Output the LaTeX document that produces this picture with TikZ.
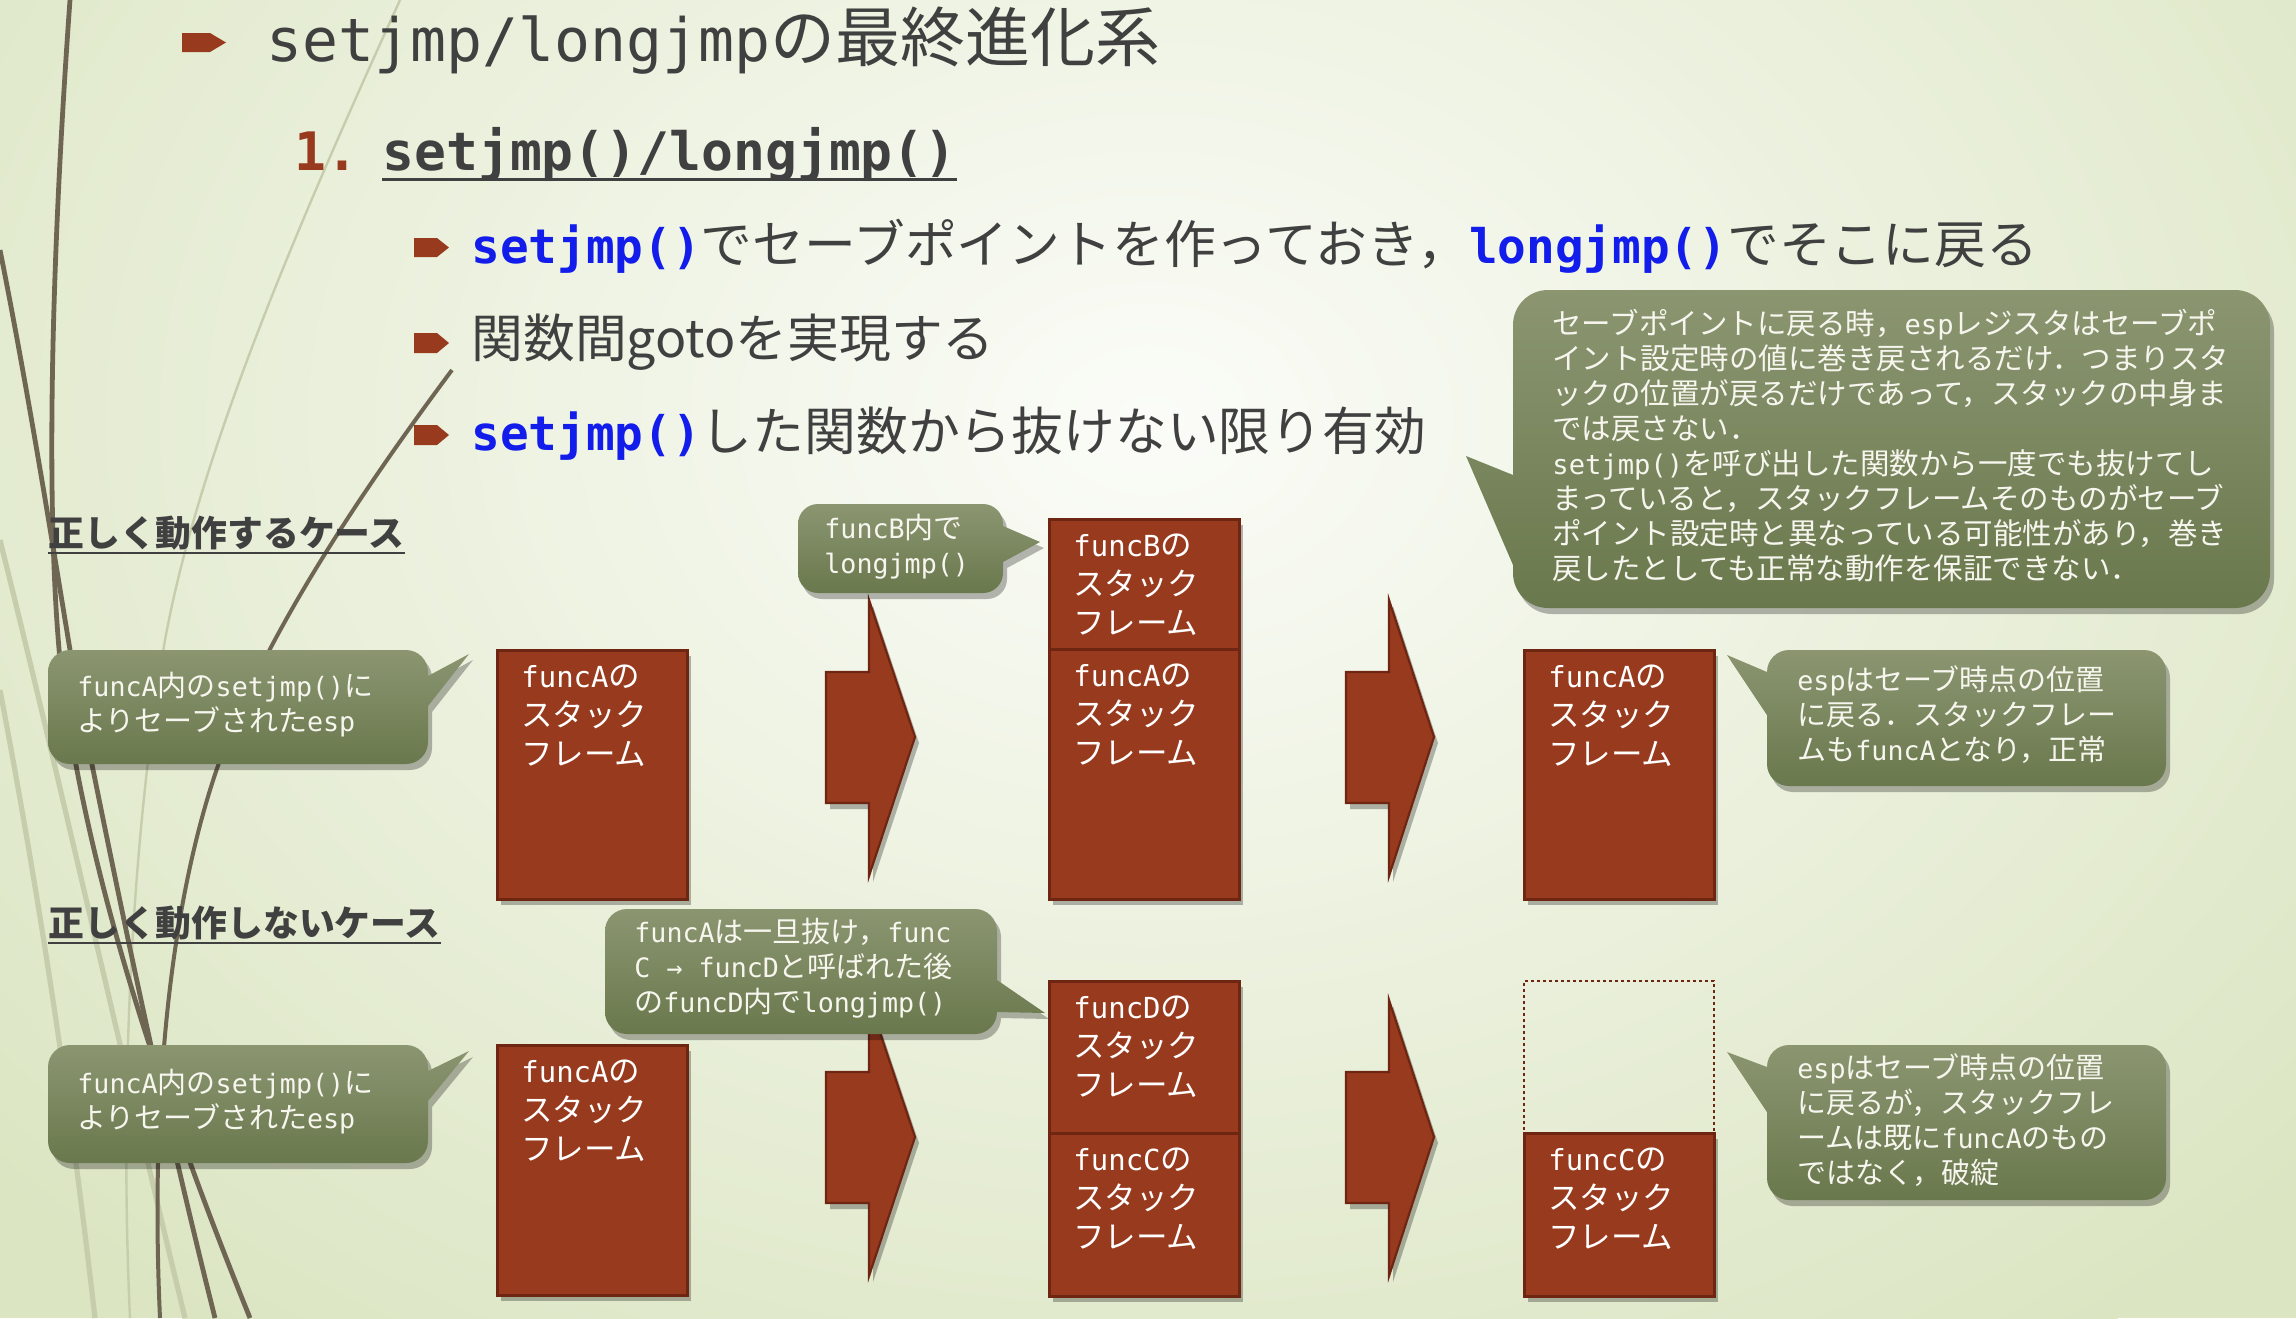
\documentclass[tikz,border=0pt]{standalone}
\usepackage{fontspec}
\setmainfont{Noto Sans CJK JP}
\newfontfamily\monofam[Scale=0.92]{DejaVu Sans Mono}
\usetikzlibrary{shadows}
\definecolor{rust}{RGB}{152,58,30}
\definecolor{rustdark}{RGB}{110,38,18}
\definecolor{olivetop}{RGB}{139,150,113}
\definecolor{olivebot}{RGB}{106,120,77}
\definecolor{txtgray}{RGB}{64,64,64}
\definecolor{codeblue}{RGB}{18,28,235}
\definecolor{bgedge}{RGB}{219,229,194}
\definecolor{bgmid}{RGB}{251,252,248}
\definecolor{darkline}{RGB}{110,102,82}
\definecolor{paleline}{RGB}{198,205,172}
\definecolor{cotext}{RGB}{246,246,238}
\newcommand{\cmono}[1]{{\monofam #1}}
\newcommand{\code}[1]{{\color{codeblue}\monofam\bfseries #1}}
% rounded callout, tail on right edge: x1 y1 x2 y2 r ya yb tipx tipy
\newcommand{\calR}[9]{(#1+#5,#2) -- (#3-#5,#2) arc[start angle=270,end angle=360,radius=#5] -- (#3,#6) -- (#8,#9) -- (#3,#7) -- (#3,#4-#5) arc[start angle=0,end angle=90,radius=#5] -- (#1+#5,#4) arc[start angle=90,end angle=180,radius=#5] -- (#1,#2+#5) arc[start angle=180,end angle=270,radius=#5] -- cycle}
% rounded callout, tail on left edge
\newcommand{\calL}[9]{(#1+#5,#2) -- (#3-#5,#2) arc[start angle=270,end angle=360,radius=#5] -- (#3,#4-#5) arc[start angle=0,end angle=90,radius=#5] -- (#1+#5,#4) arc[start angle=90,end angle=180,radius=#5] -- (#1,#7) -- (#8,#9) -- (#1,#6) -- (#1,#2+#5) arc[start angle=180,end angle=270,radius=#5] -- cycle}
\begin{document}
\begin{tikzpicture}[x=0.5pt,y=-0.5pt,
  shad/.style={drop shadow={shadow xshift=2pt,shadow yshift=-3pt,opacity=0.28,fill=black}},
  callout/.style={top color=olivetop,bottom color=olivebot,draw=none,shad},
  frame/.style={draw=rustdark,line width=1.3pt,fill=rust,inner sep=0,anchor=north west,minimum width=95pt,shad},
  blockarrow/.style={draw=rustdark,line width=1.1pt,fill=rust,shad},
  bullet/.style={fill=rust,draw=none},
  boxlbl/.style={anchor=north west,inner sep=0,align=left,text=white,font=\fontsize{15.75pt}{19.5pt}\selectfont},
  colbl/.style={anchor=north west,inner sep=0,align=left,text=cotext,font=\fontsize{14.5pt}{17.5pt}\selectfont},
  bulltxt/.style={anchor=base west,inner sep=0,text=txtgray,font=\fontsize{25.9pt}{30pt}\selectfont},
  heading/.style={anchor=base west,inner sep=0,text=txtgray,font=\fontsize{17.9pt}{22pt}\selectfont\bfseries},
  uline/.style={txtgray,line width=1.2pt}]
\useasboundingbox (0,0) rectangle (2296,1318);
% background
\begin{scope}
\clip (0,0) rectangle (2296,1318);
\fill[bgedge] (0,0) rectangle (2296,1318);
\shade[inner color=bgmid,outer color=bgedge] (1150,420) ellipse [x radius=1550,y radius=1150];
% decorative strands
\draw[paleline,line width=1.2pt] (400,0) .. controls (300,220) and (200,450) .. (165,640) .. controls (130,850) and (120,1100) .. (130,1318);
\draw[paleline,line width=2.6pt] (0,540) .. controls (60,780) and (120,1050) .. (185,1318);
\draw[paleline,line width=2.6pt] (0,690) .. controls (40,900) and (70,1100) .. (95,1318);
\draw[darkline,line width=2.4pt] (70,0) .. controls (52,250) and (45,500) .. (60,660) .. controls (85,880) and (170,1120) .. (250,1318);
\draw[darkline,line width=2.4pt] (0,250) .. controls (30,400) and (55,560) .. (75,680) .. controls (115,880) and (160,1100) .. (215,1318);
\draw[darkline,line width=2pt] (452,370) .. controls (340,520) and (260,650) .. (220,760) .. controls (170,900) and (150,1100) .. (160,1318);
\end{scope}
% title
\fill[bullet] (182,33) -- (210,33) -- (226,42.5) -- (210,52) -- (182,52) -- cycle;
\node[anchor=base west,inner sep=0,text=txtgray,font=\fontsize{32.5pt}{38pt}\selectfont] (title) at (266,61) {\cmono{setjmp/longjmp}の最終進化系};
\node[anchor=base west,inner sep=0,text=rust,font=\fontsize{28.8pt}{34pt}\selectfont\monofam\bfseries] (num) at (294,170) {1.};
\node[anchor=base west,inner sep=0,text=txtgray,font=\fontsize{28.8pt}{34pt}\selectfont\monofam\bfseries] (sub) at (382,170) {setjmp()/longjmp()};
\draw[uline,line width=1.5pt] ([yshift=-4.5pt]sub.base west) -- ([yshift=-4.5pt]sub.base east);
% bullets
\fill[bullet] (414,238) -- (437,238) -- (449,247.5) -- (437,257) -- (414,257) -- cycle;
\fill[bullet] (414,333) -- (437,333) -- (449,343) -- (437,353) -- (414,353) -- cycle;
\fill[bullet] (414,425) -- (437,425) -- (449,435) -- (437,445) -- (414,445) -- cycle;
\node[bulltxt] (b1) at (471,263) {\code{setjmp()}でセーブポイントを作っておき，\code{longjmp()}でそこに戻る};
\node[bulltxt] (b2) at (471,357) {関数間gotoを実現する};
\node[bulltxt] (b3) at (471,450) {\code{setjmp()}した関数から抜けない限り有効};
% headings
\node[heading] (h1) at (48,546) {正しく動作するケース};
\draw[uline] ([yshift=-3.5pt]h1.base west) -- ([yshift=-3.5pt]h1.base east);
\node[heading] (h2) at (48,936) {正しく動作しないケース};
\draw[uline] ([yshift=-3.5pt]h2.base west) -- ([yshift=-3.5pt]h2.base east);
% big callout
\path[callout] \calL{1513}{290}{2270}{608}{35}{475}{565}{1466}{456};
\node[colbl,font=\fontsize{14.75pt}{17.5pt}\selectfont] (cbig) at (1552,309) {セーブポイントに戻る時，\cmono{esp}レジスタはセーブポ\\イント設定時の値に巻き戻されるだけ．つまりスタ\\ックの位置が戻るだけであって，スタックの中身ま\\では戻さない．\\\cmono{setjmp()}を呼び出した関数から一度でも抜けてし\\まっていると，スタックフレームそのものがセーブ\\ポイント設定時と異なっている可能性があり，巻き\\戻したとしても正常な動作を保証できない．};
% ---- upper case ----
\path[callout] \calR{48}{650}{428}{764}{22}{676}{706}{469}{654};
\node[colbl] (c1) at (77,672) {\cmono{funcA}内の\cmono{setjmp()}に\\よりセーブされた\cmono{esp}};
\node[frame,minimum height=124.5pt] (bA1) at (496,649) {};
\node[boxlbl] (tA1) at ([shift={(25,15)}]bA1.north west) {\cmono{funcA}の\\スタック\\フレーム};
\path[blockarrow] (826,672) -- (869,672) -- (869,600) -- (915,737) -- (869,876) -- (869,803) -- (826,803) -- cycle;
\path[callout] \calR{798}{504}{1003}{593}{20}{526}{562}{1040}{542};
\node[colbl] (c2) at (824,514) {\cmono{funcB}内で\\\cmono{longjmp()}};
\node[frame,minimum height=65pt] (bB) at (1048,518) {};
\node[frame,minimum height=125pt] (bA2) at (1048,648) {};
\node[boxlbl] (tB) at ([shift={(25,15)}]bB.north west) {\cmono{funcB}の\\スタック\\フレーム};
\node[boxlbl] (tA2) at ([shift={(25,15)}]bA2.north west) {\cmono{funcA}の\\スタック\\フレーム};
\path[blockarrow] (1346,672) -- (1389,672) -- (1389,600) -- (1434,737) -- (1389,876) -- (1389,803) -- (1346,803) -- cycle;
\node[frame,minimum height=124.5pt] (bA3) at (1523,649) {};
\node[boxlbl] (tA3) at ([shift={(25,15)}]bA3.north west) {\cmono{funcA}の\\スタック\\フレーム};
\path[callout] \calL{1767}{650}{2166}{786}{22}{672}{715}{1727}{655};
\node[colbl] (c4) at (1797,665) {\cmono{esp}はセーブ時点の位置\\に戻る．スタックフレー\\ムも\cmono{funcA}となり，正常};
% ---- lower case ----
\path[callout] \calR{48}{1045}{428}{1163}{22}{1071}{1101}{469}{1051};
\node[colbl] (c6) at (77,1069) {\cmono{funcA}内の\cmono{setjmp()}に\\よりセーブされた\cmono{esp}};
\node[frame,minimum height=125pt] (bA4) at (496,1044) {};
\node[boxlbl] (tA4) at ([shift={(25,15)}]bA4.north west) {\cmono{funcA}の\\スタック\\フレーム};
\path[blockarrow] (826,1072) -- (869,1072) -- (869,1000) -- (915,1137) -- (869,1276) -- (869,1203) -- (826,1203) -- cycle;
\path[callout] \calR{605}{909}{997}{1034}{22}{980}{1012}{1045}{1013};
\node[colbl] (c3) at (634,918) {\cmono{funcA}は一旦抜け，\cmono{func}\\\cmono{C → funcD}と呼ばれた後\\の\cmono{funcD}内で\cmono{longjmp()}};
\node[frame,minimum height=76pt] (bD) at (1048,980) {};
\node[frame,minimum height=81.5pt] (bC) at (1048,1132) {};
\node[boxlbl] (tD) at ([shift={(25,15)}]bD.north west) {\cmono{funcD}の\\スタック\\フレーム};
\node[boxlbl] (tC) at ([shift={(25,15)}]bC.north west) {\cmono{funcC}の\\スタック\\フレーム};
\path[blockarrow] (1346,1072) -- (1389,1072) -- (1389,1000) -- (1434,1137) -- (1389,1276) -- (1389,1203) -- (1346,1203) -- cycle;
\node[draw=rustdark,line width=1.2pt,dash pattern=on 1.4pt off 1.6pt,inner sep=0,anchor=north west,minimum width=95pt,minimum height=76pt] (bE) at (1523,980) {};
\node[frame,minimum height=81.5pt] (bC2) at (1523,1132) {};
\node[boxlbl] (tC2) at ([shift={(25,15)}]bC2.north west) {\cmono{funcC}の\\スタック\\フレーム};
\path[callout] \calL{1767}{1045}{2166}{1200}{22}{1067}{1112}{1727}{1052};
\node[colbl] (c5) at (1797,1053) {\cmono{esp}はセーブ時点の位置\\に戻るが，スタックフレ\\ームは既に\cmono{funcA}のもの\\ではなく，破綻};
\end{tikzpicture}
\end{document}
